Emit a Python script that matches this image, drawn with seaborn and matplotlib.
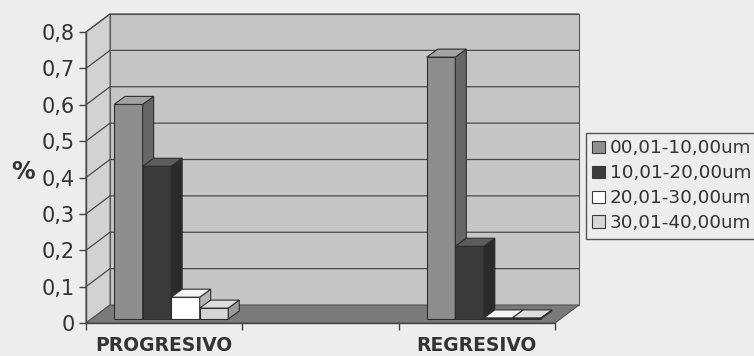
import numpy as np
import pandas as pd
import matplotlib
matplotlib.use("Agg")
import matplotlib.pyplot as plt
import matplotlib.transforms as mtransforms
from matplotlib.patches import Polygon, Rectangle, Patch
from matplotlib.lines import Line2D
from matplotlib.colors import to_rgb
import seaborn as sns

# --- data -------------------------------------------------------------
categorias = ["PROGRESIVO", "", "REGRESIVO"]
grupos = ["PROGRESIVO", "REGRESIVO"]
rangos = ["00,01-10,00um", "10,01-20,00um", "20,01-30,00um", "30,01-40,00um"]
valores_progresivo = [0.59, 0.42, 0.06, 0.03]
valores_regresivo = [0.72, 0.20, 0.003, 0.003]
yticks = [0.0, 0.1, 0.2, 0.3, 0.4, 0.5, 0.6, 0.7, 0.8]
ytick_labels = ["0", "0,1", "0,2", "0,3", "0,4", "0,5", "0,6", "0,7", "0,8"]

colores = ["#8e8e8e", "#3a3a3a", "#ffffff", "#d6d6d6"]

df = pd.DataFrame({
    "grupo": np.repeat(grupos, len(rangos)),
    "rango": rangos * len(grupos),
    "valor": valores_progresivo + valores_regresivo,
})

# --- figure -----------------------------------------------------------
sns.set_style("white")
plt.rcParams["font.family"] = ["DejaVu Sans"]
W, H, DPI = 754, 356, 100
fig = plt.figure(figsize=(W / DPI, H / DPI), dpi=DPI, facecolor="#ededed")
ax = fig.add_axes([86 / W, 1 - 323 / H, (555 - 86) / W, (323 - 32) / H])
ax.patch.set_visible(False)

XL, XR = -0.5, len(categorias) - 0.5
YB, YT = 0.0, 0.8
ax.set_xlim(XL, XR)
ax.set_ylim(YB, YT)

DEPTH = np.array([24.0, 18.0])      # depth of the box (pixels)
BAR_SHIFT = np.array([7.0, 4.0])    # bars sit slightly inside the box
BAR_DEPTH = np.array([11.0, 8.0])   # depth of each column

ident = mtransforms.IdentityTransform()
to_disp = ax.transData.transform

def poly(pts, fc, ec="#5a5a5a", lw=0.8, z=0.5):
    p = Polygon(np.asarray(pts), closed=True, transform=ident, facecolor=fc,
                edgecolor=ec, linewidth=lw, zorder=z, clip_on=False)
    ax.add_artist(p)
    return p

# walls and floor
fl, fr = to_disp((XL, YB)), to_disp((XR, YB))
tl, tr = to_disp((XL, YT)), to_disp((XR, YT))
poly([fl + DEPTH, fr + DEPTH, tr + DEPTH, tl + DEPTH], "#c6c6c6", z=0.3)
poly([fl, tl, tl + DEPTH, fl + DEPTH], "#d2d2d2", z=0.3)
for v in yticks[1:]:
    a, b = to_disp((XL, v)), to_disp((XR, v))
    ax.add_artist(Line2D([a[0], a[0] + DEPTH[0], b[0] + DEPTH[0]],
                         [a[1], a[1] + DEPTH[1], b[1] + DEPTH[1]],
                         transform=ident, color="#4a4a4a", lw=0.9,
                         zorder=0.4, clip_on=False))
poly([fl, fr, fr + DEPTH, fl + DEPTH], "#7a7a7a", ec="#555555", z=0.6)

# columns
before = set(id(p) for p in ax.patches)
sns.barplot(data=df, x="grupo", y="valor", hue="rango", order=categorias,
            hue_order=rangos, palette=colores, width=0.73, gap=0,
            edgecolor="#2e2e2e", linewidth=0.8, legend=False, ax=ax)
bars = [p for p in ax.patches if id(p) not in before and isinstance(p, Rectangle)]
bars.sort(key=lambda r: r.get_x())

shift_tr = mtransforms.offset_copy(ax.transData, fig=fig, x=BAR_SHIFT[0],
                                   y=BAR_SHIFT[1], units="dots")

def shade(c, f):
    r = np.array(to_rgb(c))
    return tuple(np.clip(r * f, 0, 1))

def tint(c, f):
    r = np.array(to_rgb(c))
    return tuple(r + (1 - r) * f)

for i, bar in enumerate(bars):
    z = 3 + 3 * i
    bar.set_transform(shift_tr)
    bar.set_zorder(z)
    fc = bar.get_facecolor()
    x0, y0, w, h = bar.get_x(), bar.get_y(), bar.get_width(), bar.get_height()
    p10 = to_disp((x0 + w, y0)) + BAR_SHIFT
    p01 = to_disp((x0, y0 + h)) + BAR_SHIFT
    p11 = to_disp((x0 + w, y0 + h)) + BAR_SHIFT
    side_fc = shade(fc, 0.72) if np.mean(fc[:3]) < 0.95 else "#b4b4b4"
    top_fc = tint(fc, 0.18) if np.mean(fc[:3]) < 0.95 else "#f4f4f4"
    poly([p10, p11, p11 + BAR_DEPTH, p10 + BAR_DEPTH], side_fc,
         ec="#2e2e2e", lw=0.8, z=z + 1)
    poly([p01, p11, p11 + BAR_DEPTH, p01 + BAR_DEPTH], top_fc,
         ec="#2e2e2e", lw=0.8, z=z + 1)

# axes, ticks and labels
ax.set_xlim(XL, XR)
ax.set_ylim(YB, YT)
for s in ["top", "right"]:
    ax.spines[s].set_visible(False)
for s in ["left", "bottom"]:
    ax.spines[s].set_color("#444444")
    ax.spines[s].set_linewidth(1.0)
    ax.spines[s].set_zorder(50)

ax.set_yticks(yticks)
ax.set_yticklabels(ytick_labels)
ax.tick_params(axis="y", which="major", length=5, width=1, color="#444444",
               pad=3, labelsize=15, labelcolor="#333333", direction="out",
               left=True)
ax.set_xticks(range(len(categorias)))
ax.set_xticklabels(categorias, fontweight="bold")
ax.set_xticks(np.arange(XL, XR + 0.01, 1.0), minor=True)
ax.tick_params(axis="x", which="major", length=0, pad=9.5, labelsize=13.5,
               labelcolor="#333333")
ax.tick_params(axis="x", which="minor", length=5, width=1, color="#444444",
               direction="out", bottom=True)
ax.set_xlabel("")
ax.set_ylabel("%", rotation=0, fontsize=17, fontweight="bold",
              color="#333333", labelpad=14, va="center")
ax.yaxis.set_label_coords(-0.135, 0.52)

handles = [Patch(facecolor=c, edgecolor="#3a3a3a", linewidth=0.8) for c in colores]
leg = fig.legend(handles, rangos, loc="upper left",
                 bbox_to_anchor=(586 / W, 1 - 133 / H), fontsize=13.2,
                 frameon=True, fancybox=False, edgecolor="#555555",
                 facecolor="#ededed", framealpha=1, handlelength=0.7,
                 handleheight=0.7, handletextpad=0.25, labelspacing=0.38,
                 borderpad=0.35, borderaxespad=0)
for t in leg.get_texts():
    t.set_color("#333333")

fig.savefig("out.png", dpi=DPI, facecolor=fig.get_facecolor())
